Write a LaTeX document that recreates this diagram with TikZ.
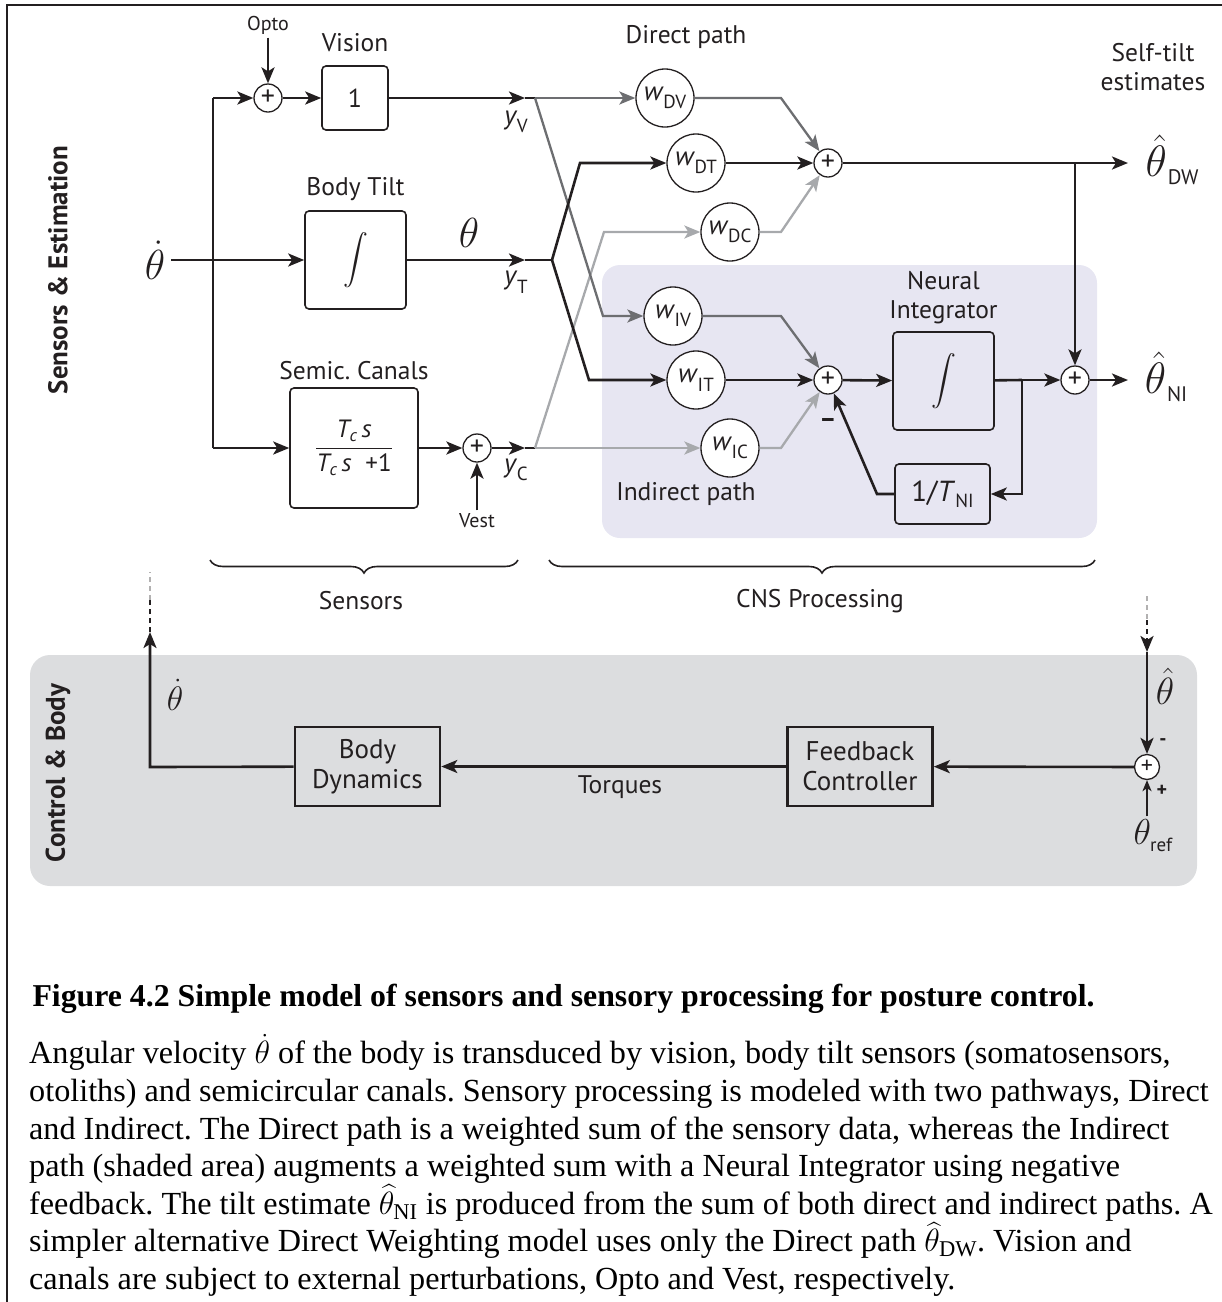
\RequirePackage{fix-cm}
\documentclass[tikz,border=0pt]{standalone}
\usepackage{amsmath}
\usepackage{fontspec}
\setmainfont{PT Sans}
\newfontfamily\capfont{Liberation Serif}
\usetikzlibrary{arrows.meta, positioning, decorations.pathreplacing, calc}
\definecolor{ink}{HTML}{231F20}
\definecolor{midgrey}{HTML}{6D6E71}
\definecolor{lightgrey}{HTML}{A7A9AC}
\definecolor{indirectbg}{HTML}{E7E6F2}
\definecolor{controlbg}{HTML}{DCDDDF}
\newcommand{\sym}[2]{\textit{#1}\kern-0.5pt\raisebox{-0.32em}{\fontsize{19}{19}\selectfont #2}}
\newcommand{\fs}[1]{\fontsize{#1}{#1}\selectfont}
\tikzstyle{block} = [rectangle, rounded corners=4pt, draw=ink, line width=1.6pt, text=ink, inner sep=0pt]
\tikzstyle{plant} = [rectangle, draw=ink, line width=2.6pt, text=ink, align=center, font=\fontsize{27}{30}\selectfont, minimum width=145pt, minimum height=79pt]
\tikzstyle{sumnode} = [circle, draw=ink, fill=white, line width=1.3pt, minimum size=28pt, inner sep=0pt, text=ink, font=\fs{28}]
\tikzstyle{weight} = [circle, draw=ink, fill=white, line width=1.3pt, minimum size=58pt, inner sep=0pt, text=ink, font=\fs{27}]
\tikzstyle{wire} = [line width=2.6pt, draw=ink]
\tikzstyle{arrow} = [wire, -{Stealth[length=16pt, width=13pt, inset=4pt]}]
\tikzstyle{greyarrow} = [line width=2.3pt, draw=midgrey, -{Stealth[length=16pt, width=13pt, inset=4pt]}]
\tikzstyle{lightarrow} = [line width=2.3pt, draw=lightgrey, -{Stealth[length=16pt, width=13pt, inset=4pt]}]
\tikzstyle{lbl} = [text=ink, align=center, font=\fontsize{25.5}{29}\selectfont]
\tikzstyle{brace} = [line width=1.6pt, draw=ink, decorate, decoration={brace, mirror, amplitude=13pt}]
\tikzstyle{fadewire} = [line width=2.6pt, dash pattern=on 5pt off 4pt]

\begin{document}
\frenchspacing
\begin{tikzpicture}[x=1pt, y=-1pt]
\useasboundingbox (0,0) rectangle (1222,1302);

% Frame and panels
\draw[line width=2pt, ink] (7,1302) -- (7,5) -- (1222,5);
\fill[controlbg, rounded corners=20pt] (30,655) rectangle (1197,886);
\fill[indirectbg, rounded corners=18pt] (602,265) rectangle (1097,538);
\node[rotate=90, text=ink, font=\bfseries\fontsize{27}{27}\selectfont] (sidetop) at (58,270) {Sensors \& Estimation};
\node[rotate=90, text=ink, font=\bfseries\fontsize{27}{27}\selectfont] (sidebot) at (58,773) {Control \& Body};

% Sensors
\node[text=ink, font=\fs{42}, inner sep=6pt] (thetadot) at (155,260) {$\dot\theta$};
\coordinate (trunktop) at (213,98);
\coordinate (trunkbot) at (213,448);
\node[lbl, font=\fs{20}] (opto) at (268,25) {Opto};
\node[sumnode] (sumopto) at (268,98) {+};
\node[block, minimum width=66pt, minimum height=64pt, font=\fs{26}] (vision) at (355,98) {1};
\node[lbl, above=10pt of vision] (visionlbl) {Vision};
\node[block, minimum width=101pt, minimum height=98pt, font=\fs{30}] (tilt) at (355.5,260) {$\displaystyle\int$};
\node[lbl, above=6pt of tilt] (tiltlbl) {Body Tilt};
\node[text=ink, font=\fs{42}] (thetatilt) at (469,233) {$\theta$};
\node[block, minimum width=128pt, minimum height=120pt, font=\fs{25}] (canal) at (354,448) {$\dfrac{\textit{T}_{\textit{c}}\,\textit{s}}{\textit{T}_{\textit{c}}\,\textit{s}\;\;\text{+1}}$};
\node[lbl, above=4pt of canal] (canallbl) {Semic. Canals};
\node[sumnode] (sumvest) at (477,448) {+};
\node[lbl, font=\fs{20}] (vest) at (477,521) {Vest};

\coordinate (yv) at (525,98);
\coordinate (yt) at (525,260);
\coordinate (yc) at (525,448);
\node[text=ink, font=\fs{27}] (yvlbl) at (516,122) {\sym{y}{V}};
\node[text=ink, font=\fs{27}] (ytlbl) at (516,282) {\sym{y}{T}};
\node[text=ink, font=\fs{27}] (yclbl) at (516,470) {\sym{y}{C}};

\draw[wire] (trunktop) -- (trunkbot);
\draw[arrow] (thetadot) -- (tilt);
\draw[arrow] (trunktop) -- (sumopto);
\draw[arrow] (trunkbot) -- (canal);
\draw[arrow] (opto) -- (sumopto);
\draw[arrow] (sumopto) -- (vision);
\draw[arrow] (vision) -- (yv);
\draw[arrow] (tilt) -- (yt);
\draw[arrow] (canal) -- (sumvest);
\draw[arrow] (vest) -- (sumvest);
\draw[arrow] (sumvest) -- (yc);

% Weights
\coordinate (yvb) at (535,98);
\coordinate (ytb) at (552,260);
\coordinate (ycb) at (535,448);
\coordinate (bendDT) at (580,163);
\coordinate (bendDC) at (604,232);
\coordinate (bendIV) at (603,316);
\coordinate (bendIT) at (589,380);
\node[weight] (wdv) at (665,98) {\sym{w}{DV}};
\node[weight] (wdt) at (696,163) {\sym{w}{DT}};
\node[weight] (wdc) at (730,232) {\sym{w}{DC}};
\node[weight] (wiv) at (673,316) {\sym{w}{IV}};
\node[weight] (wit) at (696,380) {\sym{w}{IT}};
\node[weight] (wic) at (730,448) {\sym{w}{IC}};

\draw[wire] (yv) -- (yvb);
\draw[wire] (yt) -- (ytb);
\draw[wire] (yc) -- (ycb);
\draw[lightarrow] (ycb) -- (wic);
\draw[lightarrow] (ycb) -- (bendDC) -- (wdc);
\draw[greyarrow] (yvb) -- (wdv);
\draw[greyarrow] (yvb) -- (bendIV) -- (wiv);
\draw[arrow] (ytb) -- (bendDT) -- (wdt);
\draw[arrow] (ytb) -- (bendIT) -- (wit);

% Direct path
\node[sumnode] (sumdw) at (828,163) {+};
\coordinate (outDV) at (781,98);
\coordinate (outDC) at (781,232);
\draw[greyarrow] (wdv) -- (outDV) -- (sumdw);
\draw[lightarrow] (wdc) -- (outDC) -- (sumdw);
\draw[arrow] (wdt) -- (sumdw);
\node[lbl] (directlbl) at (686,37) {Direct path};

% Indirect path
\node[sumnode] (sumni) at (828,380) {+};
\coordinate (outIV) at (781,316);
\coordinate (outIC) at (781,448);
\draw[greyarrow] (wiv) -- (outIV) -- (sumni);
\draw[lightarrow] (wic) -- (outIC) -- (sumni);
\draw[arrow] (wit) -- (sumni);
\node[text=ink, font=\bfseries\fs{26}] (minus) at (828,423) {--};
\node[lbl] (indirectlbl) at (686,494) {Indirect path};

\node[block, minimum width=101pt, minimum height=98pt, font=\fs{30}] (niblk) at (943.5,381) {$\displaystyle\int$};
\node[lbl, above=4pt of niblk] (nilbl) {Neural\\Integrator};
\node[block, minimum width=95pt, minimum height=60pt, font=\fs{29}] (leak) at (942.5,494) {1/\textit{T}\raisebox{-6pt}{\fs{19}NI}};
\coordinate (nisplit) at (1022,380);
\coordinate (leakbend) at (877,494);
\node[sumnode] (sumout) at (1075,380) {+};
\draw[arrow] (sumni) -- (niblk);
\draw[wire] (niblk) -- (nisplit);
\draw[arrow] (nisplit) -- (sumout);
\draw[arrow] (nisplit) |- (leak);
\draw[arrow] (leak) -- (leakbend) -- (sumni);

% Estimates
\coordinate (dwsplit) at (1075,163);
\coordinate (dwout) at (1128,163);
\coordinate (niout) at (1128,380);
\draw[arrow] (sumdw) -- (dwout);
\draw[arrow] (dwsplit) -- (sumout);
\draw[arrow] (sumout) -- (niout);
\node[text=ink, font=\fs{44}] (thetadw) at (1172,160) {$\hat\theta$\kern1pt\raisebox{-8pt}{\fs{21}DW}};
\node[text=ink, font=\fs{44}] (thetani) at (1166,377) {$\hat\theta$\kern1pt\raisebox{-8pt}{\fs{21}NI}};
\node[lbl] (selftilt) at (1153,67) {Self-tilt\\estimates};

% Braces
\draw[brace] (210,560) -- (518,560);
\draw[brace] (549,560) -- (1095,560);
\node[lbl] (sensorslbl) at (361,601) {Sensors};
\node[lbl] (cnslbl) at (820,601) {CNS Processing};

% Control & Body
\node[plant] (bodydyn) at (367.5,766.5) {Body\\Dynamics};
\node[plant] (fbctrl) at (860,766.5) {Feedback\\Controller};
\node[sumnode, minimum size=25pt, font=\fs{24}] (sumref) at (1147,767) {+};
\coordinate (fbtop) at (1147,596);
\coordinate (fbmid) at (1147,620);
\coordinate (fbentry) at (1147,652);
\coordinate (bdcorner) at (150,767);
\coordinate (bdup) at (150,632);
\coordinate (bdmid) at (150,600);
\coordinate (bdtop) at (150,572);
\draw[fadewire, draw=ink!35] (fbtop) -- (fbmid);
\draw[fadewire, draw=ink, -{Stealth[length=16pt, width=13pt, inset=4pt]}] (fbmid) -- (fbentry);
\draw[arrow] (fbentry) -- (sumref);
\draw[arrow] (sumref) -- (fbctrl);
\draw[arrow] (fbctrl) -- (bodydyn);
\draw[arrow] (bodydyn) -- (bdcorner) -- (bdup);
\draw[fadewire, draw=ink] (bdup) -- (bdmid);
\draw[fadewire, draw=ink!35] (bdmid) -- (bdtop);
\node[text=ink, font=\fs{38}] (thetahat) at (1165,686) {$\hat\theta$};
\node[text=ink, font=\bfseries\fs{20}] (minusref) at (1163,742) {-};
\node[text=ink, font=\bfseries\fs{20}] (plusref) at (1162,791) {+};
\node[text=ink, font=\fs{36}] (thetaref) at (1153,836) {$\theta$\kern-1pt\raisebox{-7pt}{\fs{19}ref}};
\draw[line width=2pt, draw=ink, -{Stealth[length=11pt, width=9pt, inset=3pt]}] (thetaref.north -| sumref) -- (sumref);
\node[text=ink, font=\fs{34}] (thetadotb) at (175,695) {$\dot\theta$};
\node[lbl] (torqueslbl) at (620,787) {Torques};

% Caption
\node[anchor=base west, text=black, font=\capfont\bfseries\fontsize{31.8}{36}\selectfont] (capttitle) at (29,1006) {Figure 4.2 Simple model of sensors and sensory processing for posture control.};
\node[anchor=north west, align=left, inner sep=0pt, text=black, font=\capfont\fontsize{32.2}{37.6}\selectfont] (captbody) at (29,1034) {Angular velocity $\dot\theta$ of the body is transduced by vision, body tilt sensors (somatosensors,\\
otoliths) and semicircular canals. Sensory processing is modeled with two pathways, Direct\\
and Indirect. The Direct path is a weighted sum of the sensory data, whereas the Indirect\\
path (shaded area) augments a weighted sum with a Neural Integrator using negative\\
feedback. The tilt estimate $\widehat{\theta}_{\text{NI}}$ is produced from the sum of both direct and indirect paths. A\\
simpler alternative Direct Weighting model uses only the Direct path $\widehat{\theta}_{\text{DW}}$. Vision and\\
canals are subject to external perturbations, Opto and Vest, respectively.};

\end{tikzpicture}
\end{document}
